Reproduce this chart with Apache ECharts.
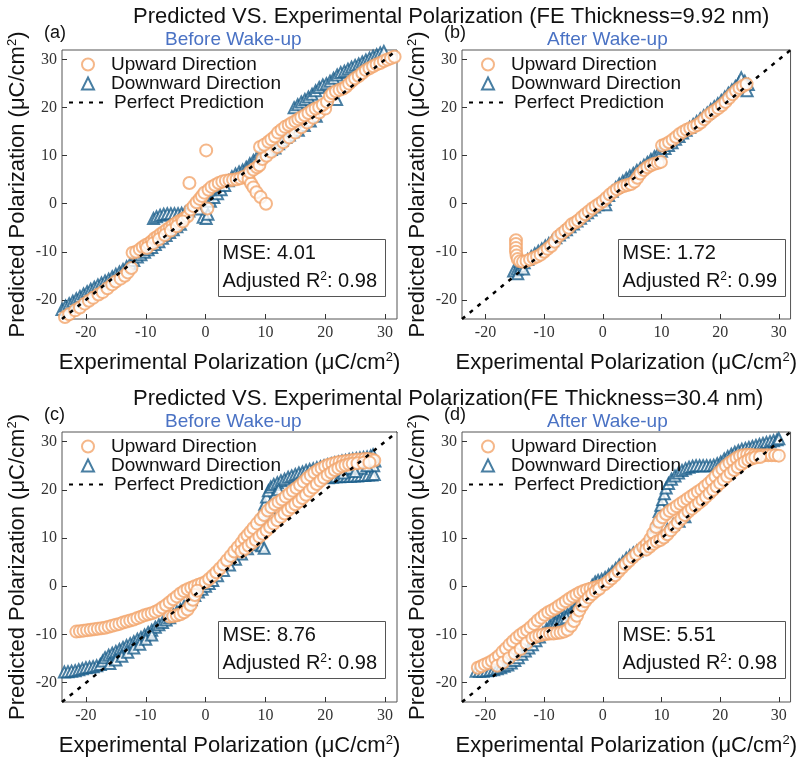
<!DOCTYPE html>
<html>
<head>
<meta charset="utf-8">
<script src="https://cdn.jsdelivr.net/npm/echarts@6/dist/echarts.min.js"></script>
<style>
    html, body { margin: 0; padding: 0; background: #fff; }
    #main { width: 799px; height: 763px; }
</style>
</head>
<body>
<div id="main"></div>
<script>
// tick labels + axis range shared by all 4 panels
var tickValues = [-20, -10, 0, 10, 20, 30];
var axisMin = -24;
var axisMax = 32;
var perfectLine = [[-24, -24], [32, 32]];

var seriesNames = ['Upward Direction', 'Downward Direction', 'Perfect Prediction'];
var panelLetters = ['(a)', '(b)', '(c)', '(d)'];
var panelStates = ['Before Wake-up', 'After Wake-up', 'Before Wake-up', 'After Wake-up'];
var mseValues = ['4.01', '1.72', '8.76', '5.51'];
var r2Values = ['0.98', '0.99', '0.98', '0.98'];

// (a) 9.92 nm, before wake-up
var upA = [[-23.5,-23.6],[-22.8,-23],[-21.8,-22.2],[-21,-21.6],[-20.2,-20.8],[-19.5,-20.2],[-18.8,-19.6],[-17.9,-18.9],
    [-17.2,-18.4],[-16.4,-17.6],[-15.6,-16.8],[-15,-16.2],[-14.2,-15.6],[-13.5,-15],[-13,-14.3],[-12.4,-13.4],[-12.2,-10.2],
    [-11.6,-10],[-11,-9.5],[-10.5,-9],[-10,-8.6],[-9.5,-8.3],[-9,-7.8],[-8.5,-7.2],[-8,-6.8],[-7.5,-6.3],[-7,-5.9],[-6.5,-5.4],
    [-6,-5],[-5.5,-4.5],[-5,-4.1],[-4.5,-3.7],[-4,-3.4],[-3.5,-3],[-3,-2.6],[-9.8,-9.2],[-8.8,-8.3],[-7.8,-7.4],[-6.8,-6.5],
    [-5.8,-5.6],[-4.8,-4.7],[-3.8,-3.7],[-2.5,-1.2],[-2.7,4.3],[-2,-0.5],[-1.5,0.3],[-1,1],[-0.6,1.6],[-0.2,2.3],[0.1,11.1],
    [0.3,-1],[0.5,2.9],[1,3.5],[1.6,3.9],[2.2,4.3],[2.8,4.6],[3.4,4.8],[4,4.9],[4.6,5],[5.2,5.1],[5.8,5.3],[6.4,5.6],[7.2,5.1],
    [7.6,4.2],[8,3.4],[8.5,2.4],[9.2,1.4],[10.1,0],[7.4,6.6],[8,7.1],[8.6,7.6],[9,8],[9.5,9.3],[10.2,10],[11,10.8],[12,11.8],
    [13,12.8],[14,13.8],[15,14.8],[16,15.9],[17,16.9],[18,17.9],[19,19],[20,19.8],[9.1,11.8],[9.8,12.3],[10.5,12.9],[11,13.4],
    [11.6,14],[12.1,14.8],[12.7,15.4],[13.3,16],[13.9,16.4],[14.4,16.8],[15,17.2],[15.5,17.6],[16,18],[16.6,18.4],[17.2,18.9],
    [17.8,19.4],[18.4,19.8],[19,20.1],[19.6,20.6],[20.3,21.2],[20.8,22.4],[21.2,23],[21.8,23.4],[22.4,23.7],[23,24],[23.5,24.4],
    [24,25],[24.5,25.6],[25,26.1],[25.6,26.6],[26.2,27.2],[26.8,27.8],[27.4,28.2],[28,28.6],[28.6,29],[29.2,29.3],[29.8,29.7],
    [30.4,30],[31,30.3],[31.6,30.6]];
var downA = [[-24,-22],[-23.4,-21.3],[-22.8,-20.8],[-22.2,-20.3],[-21.6,-19.8],[-21,-19.3],[-20.4,-18.8],[-19.8,-18.3],
    [-19.2,-17.8],[-18.6,-17.4],[-18,-16.9],[-17.4,-16.5],[-16.8,-16.1],[-16.2,-15.7],[-15.6,-15.2],[-15,-14.7],[-14.4,-14.2],
    [-13.8,-13.7],[-13.2,-13.1],[-12.6,-12.5],[-12,-11.8],[-11.4,-11.1],[-10.8,-10.6],[-10.2,-10.1],[-9.6,-9.6],[-9,-9.1],
    [-8.4,-8.5],[-7.8,-7.9],[-7.2,-7.2],[-6.6,-6.6],[-6,-6],[-5.4,-5.4],[-4.8,-4.8],[-4.2,-4.3],[-8.7,-3.1],[-8.2,-2.7],
    [-7.6,-2.4],[-7,-2.2],[-6.4,-2.1],[-5.8,-2.1],[-5.2,-2.1],[-4.6,-2.1],[-4,-2],[-3.4,-1.8],[-2.8,-1.5],[-0.4,-2.8],[0.1,-3.1],
    [0.4,-2.2],[-1.2,-1.1],[0.8,0.5],[1.4,1.3],[2,2.1],[2.6,2.9],[3.2,3.8],[3.8,4.8],[4.4,5.6],[5,6.2],[5.6,6.6],[6.2,7],[6.8,7.6],
    [7.4,8.3],[8,9],[8.6,9.7],[9.2,10.3],[9.8,10.8],[10.4,11.1],[11,11.3],[11.6,11.6],[12.2,12.5],[12.8,13.2],[13.4,13.8],
    [14,14.3],[14.6,15],[15.5,15.3],[16.5,16.3],[17.5,17.2],[18.5,18.2],[14.8,20],[15.4,20.6],[16,21.2],[16.6,21.7],[17.2,22.2],
    [17.8,22.8],[18.4,23.5],[19,24.2],[19.6,24.7],[20.2,25],[20.8,25.5],[21.4,26.1],[22,26.8],[22.6,27.3],[23.2,27.6],[23.8,28],
    [24.4,28.4],[25,28.8],[25.6,29.1],[26.2,29.5],[26.8,29.9],[27.4,30.3],[28,30.7],[28.6,31],[29.2,31.4],[29.8,31.7],[21.9,21.7]];

// (b) 9.92 nm, after wake-up
var upB = [[-14.8,-7.6],[-14.8,-8.4],[-14.8,-9.2],[-14.8,-10],[-14.7,-10.8],[-14.5,-11.5],[-14.1,-12],[-13.6,-12.1],[-13,-11.9],
    [-12.4,-11.6],[-11.8,-11.3],[-11.2,-11],[-10.6,-10.6],[-10,-10],[-9.4,-9.4],[-8.8,-8.8],[-8.2,-7.9],[-7.6,-6.8],[-7,-6.2],
    [-6.4,-5.6],[-5.8,-5],[-5.3,-4.3],[-4.7,-3.9],[-4.2,-3.5],[-3.6,-2.8],[-3,-2.2],[-2.4,-1.6],[-1.8,-1],[-1.2,-0.5],[-0.6,0],
    [0,0.5],[0.6,1.2],[1.2,1.9],[1.8,2.5],[2.4,3],[3,3.4],[3.6,3.7],[4.2,3.9],[4.8,4.1],[5.4,4.6],[5.9,5.4],[6.4,6.3],[7,7],
    [7.6,7.6],[8.2,8],[8.8,8.3],[9.4,8.5],[9.9,8.7],[10.1,12.1],[10.7,12.4],[11.3,12.8],[11.9,13.3],[12.5,13.9],[13.1,14.5],
    [13.7,15],[14.3,15.4],[14.9,15.7],[15.5,16],[16.1,16.4],[16.7,16.9],[17.3,17.6],[17.9,18.3],[18.5,18.9],[19.1,19.4],
    [19.7,19.9],[20.3,20.5],[20.9,21.2],[21.5,22],[22.1,22.8],[22.7,23.5],[23.3,24.1],[23.9,24.5],[24.5,24.9]];
var downB = [[-15.2,-14],[-14.6,-13.6],[-14,-13],[-13.4,-12.3],[-12.8,-11.6],[-12.2,-11],[-11.6,-10.4],[-11,-9.9],[-10.4,-9.4],
    [-9.8,-8.8],[-9.2,-8.3],[-8.6,-7.7],[-8,-7.1],[-7.4,-6.5],[-6.8,-5.9],[-6.2,-5.4],[-5.6,-4.8],[-5,-4.2],[-4.4,-3.6],[-3.8,-3],
    [-3.2,-2.4],[-2.6,-1.9],[-2,-1.3],[-1.4,-0.7],[-0.8,-0.2],[-0.2,0.4],[0.4,0.9],[1,1.7],[1.6,2.6],[2.2,3.4],[2.8,4.1],[3.4,4.7],
    [4,5.3],[4.6,5.8],[5.2,6.3],[5.8,6.9],[6.4,7.4],[7,8],[7.6,8.6],[8.2,9.2],[8.8,9.8],[9.4,10.4],[10,10.9],[10.6,11.5],[11.2,12.1],
    [11.8,12.7],[12.4,13.4],[13,14],[13.6,14.7],[14.2,15.3],[14.8,15.9],[15.4,16.5],[16,17.1],[16.6,17.7],[17.2,18.3],[17.8,18.9],
    [18.4,19.6],[19,20.2],[19.6,20.8],[20.2,21.5],[20.8,22.2],[21.4,23],[22,23.7],[22.6,24.4],[23.2,25.2],[23.6,26.2],[24.2,25.5],
    [24.8,24.8],[24.6,23.5],[-14.5,-14.6],[-13.5,-13.6],[0.5,-0.2]];

// (c) 30.4 nm, before wake-up
var upC = [[-21.6,-9.4],[-21,-9.3],[-20.4,-9.2],[-19.8,-9.1],[-19.2,-9],[-18.6,-8.9],[-18,-8.8],[-17.4,-8.7],[-16.8,-8.6],
    [-16.2,-8.4],[-15.6,-8.2],[-15,-8],[-14.4,-7.8],[-13.8,-7.5],[-13.2,-7.3],[-12.6,-7.1],[-12,-6.9],[-11.4,-6.6],[-10.8,-6.3],
    [-10.2,-6],[-9.6,-5.8],[-9,-5.6],[-8.4,-5.3],[-7.8,-4.9],[-7.2,-4.4],[-6.6,-3.9],[-6,-3.3],[-5.4,-2.7],[-4.8,-2.1],[-4.2,-1.5],
    [-3.6,-1],[-3,-0.6],[-2.4,-0.3],[-1.8,0],[-1.2,0.3],[-0.6,0.6],[0,0.9],[-6,-6.3],[-5.4,-6.2],[-4.8,-6],[-4.2,-5.8],[-3.6,-5.4],
    [-3,-4.8],[-2.5,-3.9],[-2.1,-2.8],[-1.8,-1.8],[-1.4,-0.9],[0.6,1.5],[1.2,2.2],[1.8,2.9],[2.4,3.7],[3,4.5],[3.6,5.4],[4.2,6.3],
    [4.8,7.2],[5.4,8.1],[6,9],[6.5,9.9],[7,10.6],[7.5,11.3],[8,12.1],[8.6,13],[9.2,13.9],[9.8,14.8],[10.4,15.7],[11,16.4],
    [11.6,17],[12.2,17.5],[12.8,18],[13.4,18.6],[14,19.2],[14.6,19.8],[15.2,20.4],[15.8,21],[16.4,21.7],[17,22.4],[17.6,23],
    [18.2,23.6],[18.8,24.1],[19.4,24.5],[20,24.9],[20.6,25.2],[21.2,25.4],[21.8,25.6],[22.4,25.8],[23,25.9],[23.6,26],[24.2,26.1],
    [24.8,26.2],[25.4,26.3],[26,26.3],[26.6,26.4],[27.2,26.4],[27.8,26.3],[28.2,26.1],[6,7.2],[6.6,7.8],[7.2,8.4],[7.8,9],
    [8.4,9.6],[9,10.3],[9.6,10.9],[10.2,11.6],[10.8,12.3],[11.4,13],[12,13.7],[12.6,14.4],[13.2,15.1],[13.8,15.8],[14.4,16.4],
    [15,17],[15.6,17.6],[16.2,18.3],[16.8,19],[17.4,19.8],[18,20.5],[18.6,21.2],[19.2,21.9],[19.8,22.5],[20.4,23.1],[21,23.6],
    [21.6,24.1],[22.2,24.5],[22.8,24.9],[23.4,25.1],[24,25.3],[24.6,25.4],[25.4,25.5],[26.4,25.6],[27.4,25.7]];
var downC = [[-23.6,-17.8],[-23,-17.7],[-22.4,-17.6],[-21.8,-17.5],[-21.2,-17.3],[-20.6,-17.1],[-20,-16.9],[-19.4,-16.8],
    [-18.8,-16.7],[-18.2,-16.5],[-17.6,-16.2],[-17.2,-15.5],[-16.8,-14.8],[-16.2,-14.3],[-15.6,-13.9],[-15,-13.5],[-14.4,-13.1],
    [-13.8,-12.7],[-13.2,-12.3],[-12.6,-11.9],[-12,-11.5],[-11.4,-11],[-10.8,-10.6],[-10.2,-10.1],[-9.6,-9.6],[-9,-9.1],
    [-8.4,-8.5],[-7.8,-8],[-7.2,-7.5],[-6.6,-7],[-16,-16],[-15,-15.3],[-14,-14.5],[-13,-13.7],[-12,-12.8],[-11,-12],[-10,-11],
    [-9,-10.1],[-6,-6.5],[-5.4,-5.9],[-4.8,-5.3],[-4.2,-4.8],[-3.6,-4.2],[-3,-3.6],[-2.4,-2.8],[-1.8,-1.9],[-1.2,-1.2],[-0.6,-0.6],
    [0,0],[0.6,0.6],[1.2,1.2],[2,2.2],[3,3.3],[4,4.4],[5,5.6],[6,6.7],[7,7.8],[8,8.6],[8.8,9.2],[9.4,8.4],[9.8,7.9],[9.2,13.5],
    [9.5,15.5],[9.9,17],[10.2,18.5],[10.5,19.8],[10.9,20.6],[11.4,21.1],[12,21.5],[12.6,21.9],[13.2,22.2],[13.8,22.6],[14.4,22.9],
    [15,23.2],[15.6,23.5],[16.2,23.7],[16.8,24],[17.4,24.2],[18,24.4],[18.6,24.6],[19.2,24.8],[19.8,25],[20.4,25.2],[21,25.4],
    [21.6,25.6],[22.2,25.8],[22.8,26],[23.4,26.1],[24,26.3],[24.6,26.4],[25.2,26.5],[25.8,26.6],[26.4,26.7],[27,26.8],[27.6,27],
    [28,27.3],[10.8,16],[11.2,17.5],[11.6,19],[12.2,20],[10.6,14.5],[11.2,14.8],[20.5,22.5],[21.2,22.6],[21.8,22.7],[22.4,22.7],
    [23,22.8],[23.6,22.8],[24.2,22.8],[24.8,22.9],[25.4,22.9],[26,23],[26.6,23],[27.2,23.1],[27.8,23.1],[28.2,23.2],[28.3,26],
    [28.1,25],[22,24],[24,24.5],[26,24.5],[27,25],[23,23.5],[25,23.8]];

// (d) 30.4 nm, after wake-up
var upD = [[-21.3,-16.9],[-20.7,-16.6],[-20.1,-16.2],[-19.5,-15.9],[-18.9,-15.5],[-18.3,-15],[-17.7,-14.4],[-17.1,-13.6],
    [-16.5,-12.9],[-15.9,-12.1],[-15.3,-11.4],[-14.7,-10.7],[-14.1,-10.1],[-13.5,-9.6],[-12.9,-9.1],[-12.3,-8.5],[-11.7,-7.8],
    [-11.1,-7.1],[-10.5,-6.5],[-9.9,-5.9],[-9.3,-5.4],[-8.7,-5],[-8.1,-4.6],[-7.5,-4.1],[-6.9,-3.6],[-6.3,-3.1],[-5.7,-2.6],
    [-5.1,-2.1],[-4.5,-1.7],[-3.9,-1.3],[-3.3,-1],[-2.7,-0.7],[-2.1,-0.5],[-1.5,-0.3],[-0.9,-0.1],[-0.3,0.1],[-18,-16.5],
    [-17,-15.8],[-16,-14.9],[-15,-14],[-14,-13],[-13,-11.8],[-12,-10.8],[-11.4,-10.4],[-10.8,-10.2],[-10.2,-10],[-9.6,-9.9],
    [-9,-9.8],[-8.4,-9.8],[-7.8,-9.7],[-7.2,-9.6],[-6.6,-9.4],[-6,-9],[-5.4,-8.2],[-4.9,-7.2],[-4.4,-6.1],[-4,-5],[-3.5,-4],
    [-3,-3.1],[-2.4,-2.3],[-1.8,-1.6],[-1.2,-1],[-0.6,-0.5],[0.3,0.4],[0.9,1],[1.5,1.6],[2.1,2.3],[2.7,3.1],[3.3,3.9],[3.9,4.6],
    [4.5,5.3],[5.1,6],[5.7,6.7],[6.3,7.4],[6.9,8.1],[7.5,8.8],[8.1,9.8],[8.6,11],[9.1,12.3],[9.6,13.4],[10.2,14.3],[10.8,15],
    [11.4,15.6],[12,16.1],[12.6,16.6],[13.2,17.1],[13.8,17.6],[14.4,18.1],[15,18.6],[15.6,19.1],[16.2,19.6],[16.8,20.1],
    [17.4,20.7],[18,21.3],[18.6,22],[19.2,22.8],[19.8,23.6],[20.4,24.3],[21,25],[21.6,25.6],[22.2,26.1],[22.8,26.6],[23.4,27],
    [24,27.2],[24.6,27.3],[25.2,27.3],[25.8,27.2],[26.4,27.2],[27,27.2],[27.6,27.2],[28.2,27.2],[28.8,27.2],[29.4,27.2],[30,27.1],
    [7.4,7.6],[8,8.2],[8.6,8.8],[9.2,9.3],[9.8,9.6],[10.4,10.1],[11,10.8],[11.6,11.6],[12.2,12.4],[12.8,13.2],[13.4,14],
    [14,14.8],[14.6,15.5],[15.2,16.1],[15.8,16.7],[16.4,17.3],[17,17.9],[17.6,18.6],[18.2,19.3],[18.8,20],[19.4,20.7],[20,21.4],
    [20.6,22.1],[21.2,22.8],[21.8,23.5],[22.4,24.1],[23,24.7],[23.6,25.3],[24.2,25.8],[24.8,26.2],[25.4,26.5],[26,26.7],[26.8,26.8]];
var downD = [[-21.6,-17.6],[-21,-17.6],[-20.4,-17.6],[-19.8,-17.5],[-19.2,-17.4],[-18.6,-17.3],[-18,-17.1],[-17.4,-16.9],
    [-16.8,-16.6],[-16.2,-16.3],[-15.6,-15.9],[-15,-15.4],[-14.4,-14.8],[-13.8,-14.1],[-13.2,-13.4],[-12.6,-12.8],[-12,-12.1],
    [-11.4,-11.3],[-10.8,-10.5],[-10.2,-9.7],[-9.6,-8.9],[-9,-8.1],[-8.4,-7.4],[-7.8,-6.8],[-7.2,-6.4],[-6.6,-6.1],[-6,-5.8],
    [-5.4,-5.3],[-4.8,-4.5],[-4.2,-3.6],[-3.6,-2.6],[-3,-1.6],[-2.4,-0.7],[-1.8,0.2],[-1.3,0.9],[-0.8,1.2],[-0.2,1.4],[0.4,1.8],
    [1,2.4],[1.6,3],[2.2,3.7],[2.8,4.4],[3.4,5.1],[4,5.8],[4.6,6.4],[5.2,6.9],[5.8,7.3],[6.4,7.8],[7,8.4],[7.6,9.1],[8.2,9.9],
    [8.6,11],[9,12.5],[9.3,14],[9.6,15.5],[9.9,16.8],[10.2,18],[10.5,19.2],[10.8,20.4],[11.2,21.3],[11.7,22.2],[12.3,22.9],
    [12.9,23.5],[13.5,24],[14.1,24.4],[14.7,24.7],[15.3,24.9],[15.9,25],[16.5,25],[17.1,25],[17.7,25],[18.3,25],[18.9,25.1],
    [19.5,25.4],[20.1,25.8],[20.7,26.4],[21.3,26.9],[21.9,27.4],[22.5,27.8],[23.1,28.1],[23.7,28.4],[24.3,28.6],[24.9,28.8],
    [25.5,29],[26.1,29.2],[26.7,29.4],[27.3,29.6],[27.9,29.8],[28.5,30],[29.1,30.2],[29.7,30.4],[30,30.6],[-8,-7.6],[-7.4,-7.3],
    [-6.8,-6.9],[-6.2,-6.5],[10,10.5],[11,11.8],[12,12.8],[13,13.5],[14,14.4],[26,27.5],[27,27.8],[28,28]];

var upData = [upA, upB, upC, upD];
var downData = [downA, downB, downC, downD];

var ORANGE = '#F3A56B';
var BLUE = '#1A5E8B';
var SANS = 'Liberation Sans';
var SERIF = 'Liberation Serif';

// panel boxes (px)
var boxes = [
    { left: 62, top: 50, width: 335, height: 269 },
    { left: 462, top: 50, width: 335, height: 269 },
    { left: 62, top: 432, width: 335, height: 270 },
    { left: 462, top: 432, width: 335, height: 270 }
];

var chart = echarts.init(document.getElementById('main'));

var grids = [], xAxes = [], yAxes = [], series = [], legends = [], titles = [], graphics = [];

var axisNameRich = {
    sup: { fontSize: 13, fontFamily: SANS, verticalAlign: 'top', padding: [0, 0, 11, 0], color: '#111' }
};

titles.push({
    text: 'Predicted VS. Experimental Polarization (FE Thickness=9.92 nm)',
    left: 128, top: 1,
    textStyle: { fontFamily: SANS, fontSize: 22, fontWeight: 'normal', color: '#111' }
});
titles.push({
    text: 'Predicted VS. Experimental Polarization(FE Thickness=30.4 nm)',
    left: 128, top: 383,
    textStyle: { fontFamily: SANS, fontSize: 22, fontWeight: 'normal', color: '#111' }
});

for (var i = 0; i < 4; i++) {
    var b = boxes[i];
    grids.push({
        left: b.left, top: b.top, width: b.width, height: b.height,
        show: true, borderColor: '#555', borderWidth: 1, backgroundColor: 'transparent'
    });
    xAxes.push({
        type: 'value', gridIndex: i, min: axisMin, max: axisMax,
        name: 'Experimental Polarization (μC/cm{sup|2})',
        nameLocation: 'middle', nameGap: 32,
        nameTextStyle: { fontFamily: SANS, fontSize: 22, color: '#111', rich: axisNameRich },
        axisLine: { show: false, onZero: false },
        axisTick: { inside: true, length: 5, customValues: tickValues, lineStyle: { color: '#333' } },
        axisLabel: { customValues: tickValues, fontFamily: SERIF, fontSize: 16, color: '#333', margin: 6 },
        splitLine: { show: false }
    });
    yAxes.push({
        type: 'value', gridIndex: i, min: axisMin, max: axisMax,
        name: 'Predicted Polarization (μC/cm{sup|2})',
        nameLocation: 'middle', nameGap: 32,
        nameTextStyle: { fontFamily: SANS, fontSize: 22, color: '#111', rich: axisNameRich },
        axisLine: { show: false, onZero: false },
        axisTick: { inside: true, length: 5, customValues: tickValues, lineStyle: { color: '#333' } },
        axisLabel: { customValues: tickValues, fontFamily: SERIF, fontSize: 16, color: '#333', margin: 5 },
        splitLine: { show: false }
    });

    // downward first so the orange circles sit on top
    series.push({
        name: seriesNames[1], type: 'scatter', xAxisIndex: i, yAxisIndex: i,
        symbol: 'emptyTriangle', symbolSize: 11,
        itemStyle: { color: BLUE, borderColor: BLUE, borderWidth: 1.5 },
        data: downData[i], z: 2
    });
    series.push({
        name: seriesNames[0], type: 'scatter', xAxisIndex: i, yAxisIndex: i,
        symbol: 'emptyCircle', symbolSize: 12,
        itemStyle: { color: ORANGE, borderColor: ORANGE, borderWidth: 1.5 },
        data: upData[i], z: 3
    });
    series.push({
        name: seriesNames[2], type: 'line', xAxisIndex: i, yAxisIndex: i,
        symbol: 'none', silent: true,
        itemStyle: { color: 'rgba(0,0,0,0)' },
        lineStyle: { color: '#000', width: 2.5, type: [4, 6] },
        data: perfectLine, z: 4
    });

    // marker legend (small icons) + dashed-line legend (wide icon)
    legends.push({
        data: [seriesNames[0], seriesNames[1]], orient: 'vertical',
        left: b.left + 14, top: b.top + 0,
        itemWidth: 12, itemHeight: 12, itemGap: 0,
        textStyle: { fontFamily: SANS, fontSize: 19, color: '#111', lineHeight: 19, padding: [0, 0, 0, 12] },
        selectedMode: false
    });
    legends.push({
        data: [seriesNames[2]], orient: 'vertical',
        left: b.left + 1, top: b.top + 38,
        itemWidth: 40, itemHeight: 12,
        textStyle: { fontFamily: SANS, fontSize: 19, color: '#111', lineHeight: 19, padding: [0, 0, 0, 0] },
        selectedMode: false
    });

    // (a) label and wake-up state
    titles.push({
        text: panelLetters[i], left: b.left - 23, top: b.top - 31,
        textStyle: { fontFamily: SANS, fontSize: 18, fontWeight: 'normal', color: '#111' }
    });
    titles.push({
        text: panelStates[i], left: b.left + (i % 2 === 1 ? 80 : 98), top: b.top - 25,
        textStyle: { fontFamily: SANS, fontSize: 19, fontWeight: 'normal', color: '#4A72C4' }
    });

    // MSE / R2 box
    graphics.push({
        type: 'group', left: b.left + 156, top: b.top + 189,
        children: [
            { type: 'rect', shape: { x: 0, y: 0, width: 167, height: 57 },
              style: { fill: '#fff', stroke: '#555', lineWidth: 1 } },
            { type: 'text', x: 4, y: 4,
              style: { text: 'MSE: ' + mseValues[i], font: '20px "Liberation Sans"', fill: '#111' } },
            { type: 'text', x: 4, y: 31,
              style: { text: 'Adjusted R{sup|2}: ' + r2Values[i], font: '20px "Liberation Sans"', fill: '#111',
                       rich: { sup: { fontSize: 12, fontFamily: SANS, verticalAlign: 'top', padding: [0, 0, 10, 0] } } } }
        ]
    });
}

var option = {
    animation: false,
    backgroundColor: '#fff',
    title: titles,
    grid: grids,
    xAxis: xAxes,
    yAxis: yAxes,
    legend: legends,
    series: series,
    graphic: graphics
};
chart.setOption(option);
</script>
</body>
</html>
